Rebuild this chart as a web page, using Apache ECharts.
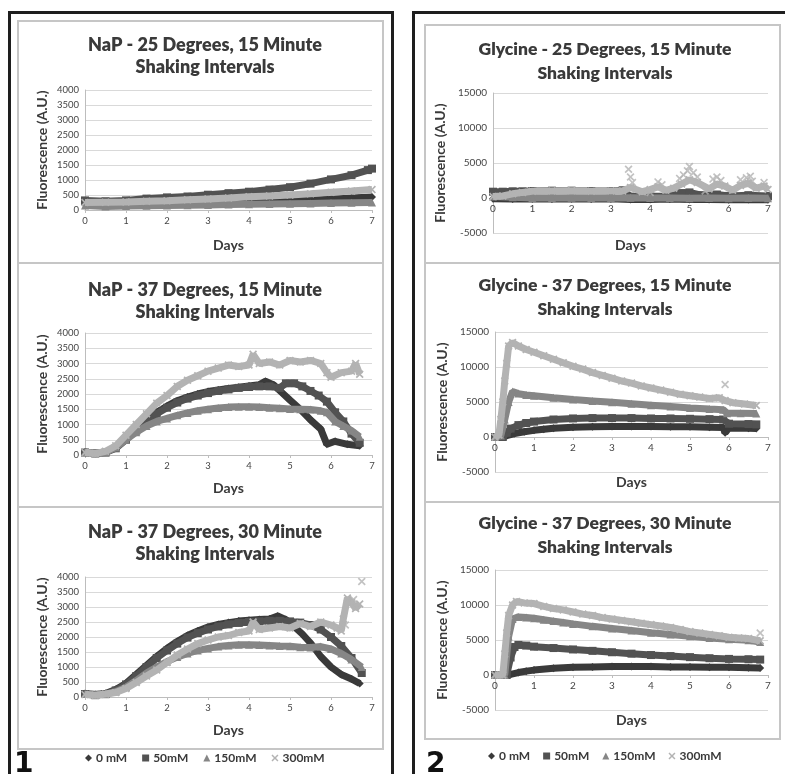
<!DOCTYPE html>
<html>
<head>
<meta charset="utf-8">
<title>Fluorescence over 7 days</title>
<script src="https://cdn.jsdelivr.net/npm/echarts@6/dist/echarts.min.js"></script>
<style>
  html, body { margin: 0; padding: 0; background: #fff; }
  #chart { width: 785px; height: 774px; }
</style>
</head>
<body>
<div id="chart"></div>
<script>
// legend names, same four concentrations in every plot
var concNames = ['0 mM', '50mM', '150mM', '300mM'];

// ---- NaP - 25 Degrees, 15 Minute  ([day, fluorescence])
var napA_0mM = [[0,180],[0.5,170],[1,180],[1.5,190],[2,200],[2.5,210],[3,230],[3.5,250],[4,270],[4.5,290],[5,310],[5.5,330],[6,360],[6.5,400],[7,430]];
var napA_50mM = [[0,320],[0.5,290],[1,320],[1.5,380],[2,420],[2.5,450],[3,510],[3.5,560],[4,610],[4.5,680],[5,760],[5.5,880],[6,1020],[6.5,1160],[6.9,1330],[7,1380]];
var napA_150mM = [[0,150],[0.5,120],[1,130],[1.5,140],[2,150],[2.5,160],[3,170],[3.5,180],[4,190],[4.5,200],[5,210],[5.5,220],[6,230],[6.5,240],[7,250]];
var napA_300mM = [[0,250],[0.5,260],[1,270],[1.5,290],[2,310],[2.5,340],[3,370],[3.5,400],[4,440],[4.5,470],[5,500],[5.5,540],[6,590],[6.5,630],[7,680]];

// ---- NaP - 37 Degrees, 15 Minute
var napB_0mM = [[0,100],[0.25,60],[0.5,90],[0.75,250],[1,550],[1.25,850],[1.5,1150],[1.75,1400],[2,1600],[2.25,1780],[2.5,1900],[2.75,2000],[3,2080],[3.25,2130],[3.5,2180],[3.75,2220],[4,2260],[4.25,2300],[4.4,2420],[4.6,2300],[4.8,2050],[5,1800],[5.25,1500],[5.5,1150],[5.75,850],[5.9,350],[6.1,450],[6.4,350],[6.7,300]];
var napB_50mM = [[0,80],[0.25,50],[0.5,80],[0.75,220],[1,500],[1.25,800],[1.5,1100],[1.75,1350],[2,1550],[2.25,1720],[2.5,1850],[2.75,1950],[3,2030],[3.25,2100],[3.5,2150],[3.75,2200],[4,2230],[4.25,2250],[4.5,2250],[4.75,2200],[4.9,2350],[5.1,2350],[5.3,2250],[5.5,2100],[5.7,1950],[5.9,1750],[6.1,1400],[6.3,1100],[6.5,700],[6.7,400]];
var napB_150mM = [[0,100],[0.25,60],[0.5,80],[0.75,250],[1,500],[1.25,750],[1.5,950],[1.75,1100],[2,1200],[2.25,1300],[2.5,1380],[2.75,1450],[3,1500],[3.25,1540],[3.5,1570],[3.75,1580],[4,1580],[4.25,1570],[4.5,1550],[4.75,1530],[5,1510],[5.25,1500],[5.5,1490],[5.75,1450],[5.9,1400],[6.1,1100],[6.3,950],[6.5,800],[6.7,600]];
var napB_300mM = [[0,80],[0.25,50],[0.5,120],[0.75,300],[1,650],[1.25,1000],[1.5,1350],[1.75,1700],[2,1950],[2.25,2250],[2.5,2450],[2.75,2600],[3,2750],[3.25,2850],[3.5,2950],[3.75,2900],[4,2950],[4.1,3300],[4.25,3000],[4.5,3050],[4.75,2950],[5,3100],[5.25,3050],[5.5,3100],[5.75,3000],[5.9,2700],[6,2550],[6.25,2700],[6.5,2750],[6.6,3000],[6.7,2650]];

// ---- NaP - 37 Degrees, 30 Minute
var napC_0mM = [[0,120],[0.25,80],[0.5,120],[0.75,250],[1,450],[1.25,750],[1.5,1050],[1.75,1350],[2,1620],[2.25,1850],[2.5,2050],[2.75,2200],[3,2330],[3.25,2420],[3.5,2480],[3.75,2530],[4,2560],[4.25,2580],[4.5,2600],[4.7,2700],[4.9,2580],[5.1,2350],[5.3,2100],[5.5,1800],[5.75,1350],[6,1000],[6.25,750],[6.5,600],[6.7,450]];
var napC_50mM = [[0,100],[0.25,70],[0.5,100],[0.75,220],[1,420],[1.25,700],[1.5,1000],[1.75,1300],[2,1550],[2.25,1780],[2.5,1980],[2.75,2130],[3,2250],[3.25,2350],[3.5,2420],[3.75,2470],[4,2500],[4.25,2520],[4.5,2540],[4.75,2540],[5,2520],[5.25,2480],[5.5,2400],[5.75,2250],[6,2000],[6.25,1700],[6.5,1300],[6.75,800]];
var napC_150mM = [[0,100],[0.25,60],[0.5,90],[0.75,180],[1,330],[1.25,550],[1.5,800],[1.75,1000],[2,1180],[2.25,1330],[2.5,1450],[2.75,1550],[3,1620],[3.25,1680],[3.5,1720],[3.75,1740],[4,1740],[4.25,1730],[4.5,1720],[4.75,1700],[5,1690],[5.25,1660],[5.5,1650],[5.75,1680],[6,1600],[6.25,1450],[6.5,1250],[6.75,1000]];
var napC_300mM = [[0,80],[0.25,60],[0.5,100],[0.75,150],[1,280],[1.25,480],[1.5,700],[1.75,900],[2,1150],[2.25,1400],[2.5,1600],[2.75,1780],[3,1900],[3.25,2000],[3.5,2050],[3.75,2150],[4,2200],[4.1,2500],[4.25,2250],[4.5,2300],[4.75,2350],[5,2300],[5.25,2450],[5.5,2350],[5.75,2500],[6,2400],[6.15,2300],[6.25,2200],[6.3,2600],[6.4,3300],[6.5,3150],[6.6,2950],[6.7,3100]];
var napC_300mM_stray = [[6.75,3850],[6.35,2400],[6.55,3250]];

// ---- Glycine - 25 Degrees, 15 Minute
var glyA_0mM = [[0,-100],[0.5,-150],[1,-100],[1.5,-150],[2,-100],[2.5,-150],[3,-100],[3.5,-200],[4,-200],[4.5,-150],[5,-200],[5.5,-200],[6,-250],[6.5,-200],[7,-250]];
var glyA_50mM = [[0,900],[0.25,900],[0.5,950],[0.75,950],[1,1000],[1.5,1050],[2,1050],[2.5,1000],[3,1000],[3.3,1100],[3.5,200],[4,250],[4.5,300],[4.8,700],[5,800],[5.3,400],[5.7,500],[6,300],[6.5,400],[7,300]];
var glyA_150mM = [[0,200],[0.5,100],[1,0],[1.5,0],[2,50],[2.5,0],[3,0],[3.5,50],[4,0],[4.5,0],[5,-50],[5.5,0],[6,-50],[6.5,0],[7,-50]];
var glyA_300mM = [[0,200],[0.25,300],[0.5,600],[0.75,800],[1,950],[1.5,1000],[2,1050],[2.5,950],[3,1000],[3.3,1000],[3.5,1500],[3.8,900],[4,1200],[4.2,1600],[4.4,1100],[4.6,1400],[4.8,2000],[5,2600],[5.2,2200],[5.5,1300],[5.7,2000],[5.9,1700],[6.1,1100],[6.3,1800],[6.5,2100],[6.7,1400],[6.9,1700],[7,1200]];
var glyA_300mM_stray = [[3.45,4100],[3.5,3000],[3.55,2200],[4.2,2300],[4.3,1900],[4.75,2800],[4.85,3300],[4.95,3900],[5.0,4500],[5.1,3600],[5.2,3000],[5.6,2700],[5.7,3000],[5.8,2500],[6.3,2600],[6.45,2900],[6.55,3100],[6.6,2400],[6.9,2200],[5.4,1000],[4.0,800]];

// ---- Glycine - 37 Degrees, 15 Minute
var glyB_0mM = [[0,0],[0.2,0],[0.3,200],[0.5,500],[0.75,750],[1,950],[1.25,1100],[1.5,1250],[2,1400],[2.5,1450],[3,1500],[3.5,1500],[4,1500],[4.5,1480],[5,1450],[5.5,1400],[5.85,1350],[5.9,600],[6,1300],[6.5,1250],[6.7,1200]];
var glyB_50mM = [[0,0],[0.2,0],[0.3,600],[0.4,1200],[0.6,1700],[0.8,2000],[1,2200],[1.5,2500],[2,2650],[2.5,2700],[3,2700],[3.5,2700],[4,2650],[4.5,2650],[5,2600],[5.5,2550],[5.85,2500],[6,1900],[6.5,1850],[6.7,1800]];
var glyB_150mM = [[0,0],[0.15,200],[0.25,2500],[0.35,5000],[0.45,6500],[0.6,6200],[0.8,6000],[1,5900],[1.5,5600],[2,5350],[2.5,5150],[3,4950],[3.5,4750],[4,4550],[4.5,4350],[5,4150],[5.5,4000],[5.85,3900],[5.95,3400],[6.3,3400],[6.7,3350]];
var glyB_300mM = [[0,0],[0.1,300],[0.15,2500],[0.2,5000],[0.25,8000],[0.3,10500],[0.35,13000],[0.45,13500],[0.6,13000],[0.8,12500],[1,12100],[1.25,11600],[1.5,11100],[1.75,10600],[2,10100],[2.25,9700],[2.5,9200],[2.75,8800],[3,8400],[3.25,8000],[3.5,7700],[3.75,7300],[4,7000],[4.25,6700],[4.5,6400],[4.75,6100],[5,5900],[5.25,5700],[5.5,5500],[5.75,5600],[5.9,5200],[6.1,4900],[6.4,4700],[6.7,4500]];
var glyB_300mM_stray = [[5.9,7500]];

// ---- Glycine - 37 Degrees, 30 Minute
var glyC_0mM = [[0,0],[0.3,0],[0.4,100],[0.6,350],[0.8,550],[1,700],[1.5,950],[2,1100],[2.5,1150],[3,1200],[3.5,1200],[4,1200],[4.5,1150],[5,1150],[5.5,1100],[6,1100],[6.5,1050],[6.8,1000]];
var glyC_50mM = [[0,0],[0.3,0],[0.4,2500],[0.5,4000],[0.6,4300],[0.8,4200],[1,4050],[1.5,3850],[2,3650],[2.5,3450],[3,3250],[3.5,3050],[4,2850],[4.5,2700],[5,2550],[5.5,2400],[6,2300],[6.5,2250],[6.8,2200]];
var glyC_150mM = [[0,0],[0.25,0],[0.35,5500],[0.45,8000],[0.6,8300],[0.8,8200],[1,8100],[1.25,7900],[1.5,7700],[1.75,7500],[2,7300],[2.5,6950],[3,6650],[3.5,6350],[4,6050],[4.5,5800],[5,5550],[5.5,5300],[6,5100],[6.5,4950],[6.8,4700]];
var glyC_300mM = [[0,0],[0.2,0],[0.25,3000],[0.3,6000],[0.35,8500],[0.45,10000],[0.55,10500],[0.75,10300],[1,10200],[1.25,9800],[1.5,9500],[1.75,9300],[2,9000],[2.25,8700],[2.5,8500],[2.75,8200],[3,8000],[3.25,7800],[3.5,7600],[3.75,7400],[4,7200],[4.25,7000],[4.5,6800],[4.75,6500],[5,6200],[5.25,6000],[5.5,5800],[5.75,5600],[6,5400],[6.25,5300],[6.5,5200],[6.8,4900]];
var glyC_300mM_stray = [[6.8,6000]];

// axis ranges
var napRange = {min: 0, max: 4000, interval: 500};
var glyRange = {min: -5000, max: 15000, interval: 5000};
var dayRange = {min: 0, max: 7, interval: 1};

// styling
var concColors = ['#3a3a3a', '#525252', '#868686', '#b3b3b3'];
var crossPath = 'path://M0,1.5L1.5,0L5,3.5L8.5,0L10,1.5L6.5,5L10,8.5L8.5,10L5,6.5L1.5,10L0,8.5L3.5,5Z';
var concSymbols = ['diamond', 'rect', 'triangle', crossPath];
var font = 'Lato';
var textDark = '#3a3a3a';

var plots = [
  {title: 'NaP - 25 Degrees, 15 Minute\nShaking Intervals', range: napRange,
   lines: [napA_0mM, napA_50mM, napA_150mM, napA_300mM], stray: [],
   grid: {left: 85, top: 90, width: 287, height: 120}, titleX: 200, titleY: 29, fs: 18, lh: 22, yGap: 36, xGap: 28},
  {title: 'NaP - 37 Degrees, 15 Minute\nShaking Intervals', range: napRange,
   lines: [napB_0mM, napB_50mM, napB_150mM, napB_300mM], stray: [],
   grid: {left: 85, top: 333, width: 287, height: 122}, titleX: 200, titleY: 274, fs: 18, lh: 22, yGap: 36, xGap: 26},
  {title: 'NaP - 37 Degrees, 30 Minute\nShaking Intervals', range: napRange,
   lines: [napC_0mM, napC_50mM, napC_150mM, napC_300mM], stray: napC_300mM_stray,
   grid: {left: 85, top: 577, width: 287, height: 120}, titleX: 200, titleY: 516, fs: 18, lh: 22, yGap: 36, xGap: 26},
  {title: 'Glycine - 25 Degrees, 15 Minute\nShaking Intervals', range: glyRange,
   lines: [glyA_0mM, glyA_50mM, glyA_150mM, glyA_300mM], stray: glyA_300mM_stray,
   grid: {left: 493, top: 93, width: 275, height: 140}, titleX: 600, titleY: 32, fs: 17.5, lh: 24, yGap: 46, xGap: 40},
  {title: 'Glycine - 37 Degrees, 15 Minute\nShaking Intervals', range: glyRange,
   lines: [glyB_0mM, glyB_50mM, glyB_150mM, glyB_300mM], stray: glyB_300mM_stray,
   grid: {left: 495, top: 332, width: 273, height: 140}, titleX: 600, titleY: 268, fs: 17.5, lh: 24, yGap: 46, xGap: 38},
  {title: 'Glycine - 37 Degrees, 30 Minute\nShaking Intervals', range: glyRange,
   lines: [glyC_0mM, glyC_50mM, glyC_150mM, glyC_300mM], stray: glyC_300mM_stray,
   grid: {left: 495, top: 570, width: 273, height: 140}, titleX: 600, titleY: 506, fs: 17.5, lh: 24, yGap: 46, xGap: 38}
];

var option = {
  backgroundColor: '#fff',
  animation: false,
  title: [], grid: [], xAxis: [], yAxis: [], series: [], legend: [], graphic: []
};

function plainNumber(v) { return String(v); }

plots.forEach(function (p, i) {
  var isGly = p.range === glyRange;
  // distance from the bottom of the plot up to the zero line
  var zeroOffset = p.grid.height * (0 - p.range.min) / (p.range.max - p.range.min);
  option.title.push({
    text: p.title, left: p.titleX, top: p.titleY, textAlign: 'center',
    textStyle: {fontFamily: font, fontWeight: 800, fontSize: p.fs, lineHeight: p.lh, color: textDark}
  });
  option.grid.push(p.grid);
  option.xAxis.push({
    type: 'value', gridIndex: i, min: dayRange.min, max: dayRange.max, interval: dayRange.interval,
    offset: -zeroOffset,
    name: 'Days', nameLocation: 'middle', nameGap: p.xGap,
    nameTextStyle: {fontFamily: font, fontWeight: 'bold', fontSize: 14, color: textDark},
    axisLine: {onZero: false, lineStyle: {color: '#bdbdbd', width: 1}},
    axisTick: {show: true, length: 3, lineStyle: {color: '#bdbdbd'}},
    axisLabel: {fontFamily: font, fontSize: isGly ? 10 : 9.5, color: '#454545', margin: 6, formatter: plainNumber},
    splitLine: {show: false}
  });
  option.yAxis.push({
    type: 'value', gridIndex: i, min: p.range.min, max: p.range.max, interval: p.range.interval,
    name: 'Fluorescence (A.U.)', nameLocation: 'middle', nameRotate: 90, nameGap: p.yGap,
    nameTextStyle: {fontFamily: font, fontWeight: 'bold', fontSize: 14, color: textDark},
    axisLine: {show: true, onZero: false, lineStyle: {color: '#bdbdbd', width: 1}},
    axisTick: {show: false},
    axisLabel: {fontFamily: font, fontSize: isGly ? 10 : 9.5, color: '#454545', margin: 6, formatter: plainNumber},
    splitLine: {show: true, lineStyle: {color: '#d9d9d9', width: 1}}
  });
  p.lines.forEach(function (pts, k) {
    option.series.push({
      type: 'line', name: concNames[k], xAxisIndex: i, yAxisIndex: i, data: pts,
      symbol: concSymbols[k], symbolSize: 8, showSymbol: true,
      lineStyle: {color: concColors[k], width: 7},
      itemStyle: {color: concColors[k]},
      emphasis: {disabled: true}, z: 2 + k
    });
  });
  if (p.stray.length) {
    option.series.push({
      type: 'scatter', name: concNames[3], xAxisIndex: i, yAxisIndex: i, data: p.stray,
      symbol: crossPath, symbolSize: 8, itemStyle: {color: concColors[3]}, z: 6
    });
  }
});

// two legends, one under each column
[{left: 80, top: 747, gap: 15}, {left: 483, top: 745, gap: 13}].forEach(function (pos) {
  option.legend.push({
    left: pos.left, top: pos.top, itemWidth: 7, itemHeight: 7, itemGap: pos.gap,
    selectedMode: false,
    textStyle: {fontFamily: font, fontWeight: 'bold', fontSize: 12, color: textDark, padding: [0, 0, 0, -1]},
    data: concNames.map(function (n, k) { return {name: n, icon: concSymbols[k]}; })
  });
});

// panel frames and sub-plot boxes
var boxes = [
  [18, 21, 365, 242], [18, 263, 365, 244], [18, 507, 365, 242],
  [425, 25, 355, 238], [425, 263, 355, 239], [425, 502, 355, 237]
];
boxes.forEach(function (b) {
  option.graphic.push({type: 'rect', z: -10, silent: true,
    shape: {x: b[0], y: b[1], width: b[2], height: b[3]},
    style: {fill: 'none', stroke: '#c6c6c6', lineWidth: 2}});
});
option.graphic.push({type: 'rect', z: -10, silent: true,
  shape: {x: 9.5, y: 12.5, width: 383, height: 820},
  style: {fill: 'none', stroke: '#1e1e1e', lineWidth: 3}});
option.graphic.push({type: 'rect', z: -10, silent: true,
  shape: {x: 413.5, y: 12.5, width: 500, height: 820},
  style: {fill: 'none', stroke: '#1e1e1e', lineWidth: 3}});
option.graphic.push({type: 'text', left: 14, top: 751, silent: true,
  style: {text: '1', font: 'bold 28px "DejaVu Sans"', fill: '#111'}});
option.graphic.push({type: 'text', left: 426, top: 751, silent: true,
  style: {text: '2', font: 'bold 28px "DejaVu Sans"', fill: '#111'}});

var myChart = echarts.init(document.getElementById('chart'));
myChart.setOption(option);
</script>
</body>
</html>
